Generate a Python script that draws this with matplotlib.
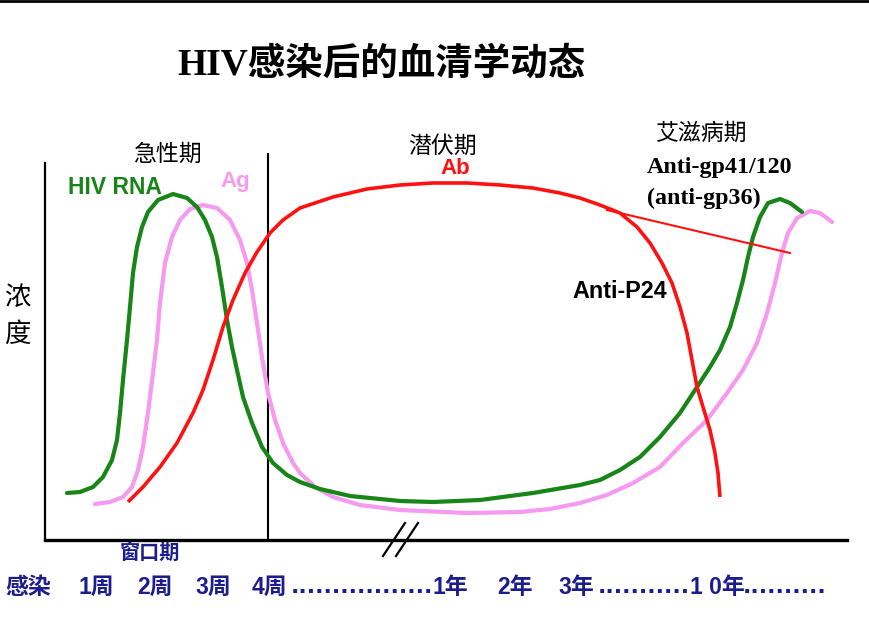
import matplotlib
matplotlib.use("Agg")
import matplotlib.pyplot as plt
from matplotlib.lines import Line2D

plt.rcParams['font.family'] = ['Liberation Sans', 'Noto Sans CJK SC', 'DejaVu Sans']

# ---------------- data (schematic concentration vs. time) ----------------
rna_x = [22, 35, 48, 58, 67, 72, 75, 78, 82, 85, 88, 92, 97, 103, 113, 128, 142, 152, 160, 167,
         172, 177, 182, 187, 192, 198, 207, 217, 228, 242, 255, 275, 305, 355, 388, 435, 488,
         535, 555, 575, 595, 615, 635, 652, 665, 675, 685, 692, 698, 703, 708, 715, 723, 735,
         745, 757]
rna_y = [47, 48, 53, 63, 80, 100, 127, 160, 200, 233, 267, 293, 313, 328, 340, 346, 342, 333,
         320, 303, 283, 253, 220, 193, 170, 143, 117, 93, 77, 65, 58, 51, 44, 39, 38, 40, 47,
         55, 60, 70, 83, 103, 127, 153, 173, 190, 213, 237, 260, 283, 303, 323, 337, 341,
         337, 328]

ag_x = [50, 65, 78, 87, 93, 98, 103, 108, 112, 115, 120, 127, 135, 145, 158, 172, 185, 195, 202,
        207, 212, 217, 223, 230, 238, 248, 255, 270, 288, 315, 355, 422, 475, 505, 535, 562,
        588, 615, 638, 662, 682, 698, 712, 722, 730, 737, 743, 752, 765, 775, 787]
ag_y = [36, 38, 43, 53, 70, 93, 127, 167, 200, 237, 277, 303, 320, 331, 335, 332, 320, 300, 277,
        250, 217, 183, 147, 120, 97, 77, 67, 53, 43, 35, 30, 27, 28, 31, 37, 45,
        57, 73, 97, 120, 147, 170, 197, 227, 257, 287, 307, 322, 329, 327, 318]

ab_x = [83, 98, 115, 132, 148, 158, 168, 178, 188, 200, 212, 225, 238, 255, 288, 322, 355, 388,
        422, 455, 488, 515, 535, 555, 575, 592, 605, 617, 627, 635, 642, 647, 652, 658, 665,
        670, 673, 675]
ab_y = [38, 53, 73, 97, 127, 150, 180, 213, 240, 267, 288, 307, 320, 332, 343, 351, 355, 357,
        357, 355, 352, 347, 342, 335, 327, 313, 297, 277, 257, 233, 207, 180, 153, 133, 110,
        87, 67, 43]

gp_x = [562, 745]
gp_y = [330, 287]

break_x1 = [338, 360]
break_x2 = [351, 373]
break_y = [-16, 17]

acute_end = 223
phase_labels = ["急性期", "潜伏期", "艾滋病期"]
phase_x = [122, 397, 657]
phase_y = [386, 394, 407]

time_labels = ["感染", "1周", "2周", "3周", "4周", "1年", "2年", "3年", "1 0年"]
time_x = [-40, 33, 92, 150, 207, 388, 452, 513, 645]
dot_labels = ["." * 17, "." * 11, "." * 10]
dot_x = [246, 553, 698]

GREEN = '#178517'
PINK = '#F59AF0'
RED = '#FF1111'
NAVY = '#1C1C8E'

# ---------------- figure ----------------
fig = plt.figure(figsize=(8.69, 6.33), dpi=100)
ax = fig.add_axes([45 / 869, 93 / 633, 802 / 869, 377 / 633])
ax.set_xlim(0, 802)
ax.set_ylim(0, 377)
ax.set_xticks([])
ax.set_yticks([])
for s in ['top', 'right']:
    ax.spines[s].set_visible(False)
ax.spines['left'].set_linewidth(1.6)
ax.spines['bottom'].set_linewidth(2.4)

fig.add_artist(Line2D([0, 1], [0.998, 0.998], transform=fig.transFigure, color='black', lw=2))

ax.plot([acute_end, acute_end], [0, 386], color='black', lw=1.5, clip_on=False)

ax.plot(ag_x, ag_y, color=PINK, lw=3.0, solid_capstyle='round', solid_joinstyle='round', zorder=3)
ax.plot(rna_x, rna_y, color=GREEN, lw=3.0, solid_capstyle='round', solid_joinstyle='round', zorder=4)
ax.plot(ab_x, ab_y, color=RED, lw=2.6, solid_capstyle='butt', solid_joinstyle='round', zorder=5)
ax.plot(gp_x, gp_y, color=RED, lw=1.5, zorder=5)

ax.plot(break_x1, break_y, color='black', lw=1.6, clip_on=False)
ax.plot(break_x2, break_y, color='black', lw=1.6, clip_on=False)

# title
ax.text(336, 475, "HIV感染后的血清学动态", ha='center', va='center', fontsize=27,
        fontweight='bold', family=['Liberation Serif', 'Noto Sans CJK SC'], clip_on=False)

for lab, x, y in zip(phase_labels, phase_x, phase_y):
    ax.text(x, y, lab, ha='center', va='center', fontsize=16.5, family=['Noto Sans CJK SC'],
            clip_on=False)

ax.text(23, 353, "HIV RNA", color=GREEN, fontsize=16.5, fontweight='bold', ha='left', va='center')
ax.text(175, 359, "Ag", color=PINK, fontsize=16, fontweight='bold', ha='left', va='center')
ax.text(395, 372, "Ab", color=RED, fontsize=16, fontweight='bold', ha='left', va='center')
ax.text(527, 248, "Anti-P24", color='black', fontsize=16.8, fontweight='bold', ha='left', va='center')
ax.text(602, 372, "Anti-gp41/120", color='black', fontsize=17.3, fontweight='bold', ha='left',
        va='center', family=['Liberation Serif'])
ax.text(602, 342, "(anti-gp36)", color='black', fontsize=17.3, fontweight='bold', ha='left',
        va='center', family=['Liberation Serif'])

ax.text(-28, 243, "浓", fontsize=19, ha='center', va='center', family=['Noto Sans CJK SC'],
        clip_on=False)
ax.text(-28, 206, "度", fontsize=19, ha='center', va='center', family=['Noto Sans CJK SC'],
        clip_on=False)

ax.text(105, -12, "窗口期", color=NAVY, fontsize=14.5, ha='center', va='center',
        family=['Noto Sans CJK SC'], fontweight='bold', clip_on=False)

for lab, x in zip(time_labels, time_x):
    ax.text(x, -47, lab, color=NAVY, fontsize=16.5, fontweight='bold', ha='left', va='center',
            family=['Liberation Sans', 'Noto Sans CJK SC'], clip_on=False)
for lab, x in zip(dot_labels, dot_x):
    ax.text(x, -47, lab, color=NAVY, fontsize=16, fontweight='bold', ha='left', va='center',
            family=['DejaVu Sans'], clip_on=False)

fig.savefig("out.png", dpi=100)
